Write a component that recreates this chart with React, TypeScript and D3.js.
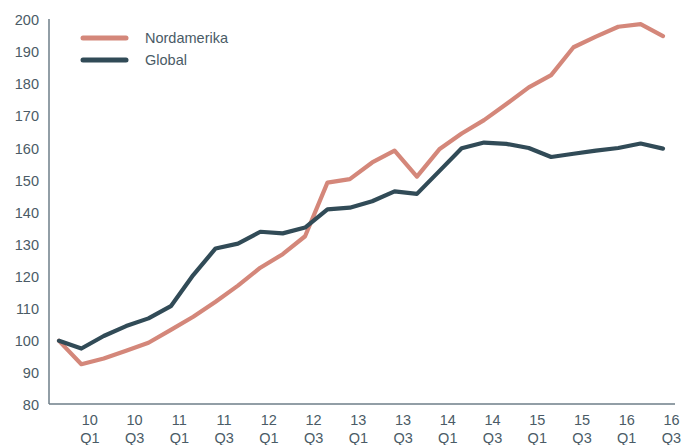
import React from 'react';
import * as d3 from 'd3';

const quarters = [
  '09Q4', '10Q1', '10Q2', '10Q3', '10Q4', '11Q1', '11Q2', '11Q3', '11Q4',
  '12Q1', '12Q2', '12Q3', '12Q4', '13Q1', '13Q2', '13Q3', '13Q4',
  '14Q1', '14Q2', '14Q3', '14Q4', '15Q1', '15Q2', '15Q3', '15Q4',
  '16Q1', '16Q2', '16Q3'
];

const nordamerika = [
  100, 92.7, 94.5, 96.9, 99.4, 103.4, 107.5, 112.2, 117.2, 122.8, 127.0, 132.6,
  149.3, 150.4, 155.6, 159.3, 151.2, 159.7, 164.6, 168.8, 173.8, 179.0, 182.8,
  191.5, 194.8, 197.9, 198.7, 195.0
];

const global = [
  100, 97.6, 101.5, 104.6, 107.0, 110.8, 120.5, 128.8, 130.3, 134.0, 133.5, 135.3,
  141.0, 141.5, 143.5, 146.6, 145.8, 152.9, 160.0, 161.8, 161.4, 160.1, 157.3,
  158.3, 159.3, 160.1, 161.5, 159.9
];

const yTicks = [80, 90, 100, 110, 120, 130, 140, 150, 160, 170, 180, 190, 200];

const xLabels = [
  ['10', 'Q1'], ['10', 'Q3'], ['11', 'Q1'], ['11', 'Q3'], ['12', 'Q1'], ['12', 'Q3'],
  ['13', 'Q1'], ['13', 'Q3'], ['14', 'Q1'], ['14', 'Q3'], ['15', 'Q1'], ['15', 'Q3'],
  ['16', 'Q1'], ['16', 'Q3']
];
const labelQuarters = ['10Q1', '10Q3', '11Q1', '11Q3', '12Q1', '12Q3', '13Q1', '13Q3',
  '14Q1', '14Q3', '15Q1', '15Q3', '16Q1', '16Q3'];

const series = [
  { name: 'Nordamerika', values: nordamerika, color: '#d4877a' },
  { name: 'Global', values: global, color: '#314b57' }
];

export default function App() {
  const w = 697;
  const h = 445;
  const font = '"Liberation Sans", Arial, sans-serif';
  const textColor = '#4a5b66';

  const x = d3.scalePoint().domain(quarters).range([59, 663]);
  const y = d3.scaleLinear().domain([80, 200]).range([405, 20]);

  const line = d3.line<number>()
    .x((d, i) => x(quarters[i]))
    .y((d) => y(d));

  return (
    <svg width={w} height={h} style={{ position: 'absolute', left: 0, top: 0, background: '#fff' }}>
      <line x1={49} x2={49} y1={19} y2={404} stroke="#6e7e88" strokeWidth={1.5} />
      <line x1={49} x2={675} y1={404} y2={404} stroke="#6e7e88" strokeWidth={1.5} />

      {yTicks.map((t) => (
        <text key={t} x={39} y={y(t)} dy="0.36em" textAnchor="end"
          fontFamily={font} fontSize={14.5} fill={textColor}>{t}</text>
      ))}

      {labelQuarters.map((q, i) => (
        <g key={q} transform={`translate(${x(q) + 8.5}, 0)`}>
          <text y={420} dy="0.36em" textAnchor="middle" fontFamily={font} fontSize={14.5} fill={textColor}>
            {xLabels[i][0]}
          </text>
          <text y={438} dy="0.36em" textAnchor="middle" fontFamily={font} fontSize={14.5} fill={textColor}>
            {xLabels[i][1]}
          </text>
        </g>
      ))}

      {series.map((s) => (
        <path key={s.name} d={line(s.values)} fill="none" stroke={s.color}
          strokeWidth={4.2} strokeLinejoin="round" strokeLinecap="round" />
      ))}

      {series.map((s, i) => (
        <g key={s.name} transform={`translate(0, ${38 + i * 22})`}>
          <line x1={83} x2={126} y1={0} y2={0} stroke={s.color} strokeWidth={5} strokeLinecap="round" />
          <text x={145} y={0} dy="0.36em" fontFamily={font} fontSize={14.5} fill={textColor}>{s.name}</text>
        </g>
      ))}
    </svg>
  );
}
